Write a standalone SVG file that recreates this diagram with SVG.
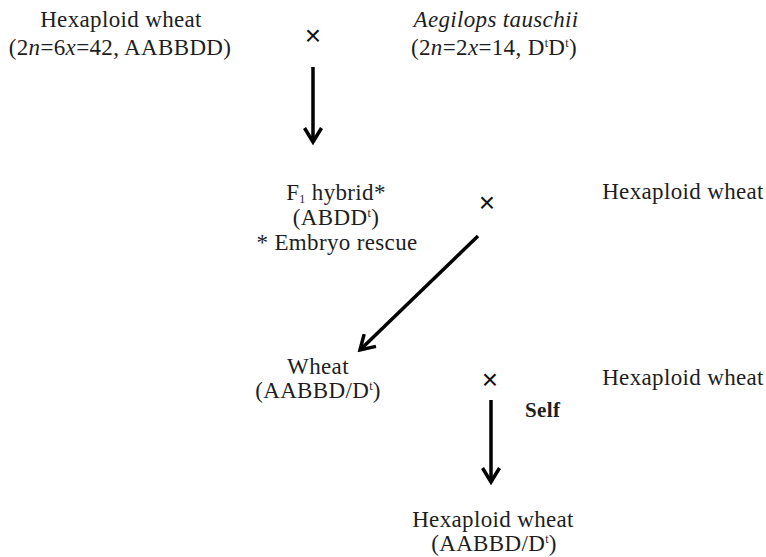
<svg xmlns="http://www.w3.org/2000/svg" width="766" height="557" viewBox="0 0 766 557">
<style>
text{font-family:"Liberation Serif","Times New Roman",serif;font-size:23px;letter-spacing:0.35px;fill:#1e1e1e;text-anchor:middle}
.it{font-style:italic}
.sup{font-size:12px}
.x{font-family:"Liberation Sans",Arial,sans-serif;font-size:28px;letter-spacing:0;fill:#111}
.b{font-weight:bold;text-anchor:start;font-size:21px}
.conn line{stroke:#000;stroke-width:3.5;fill:none}
</style>
<defs>
<marker id="ah" viewBox="0 0 20 20" refX="17" refY="10" markerWidth="20" markerHeight="20" markerUnits="userSpaceOnUse" orient="auto">
<path d="M3,1.5 L17,10 L3,18.5" fill="none" stroke="#000" stroke-width="3.5" stroke-linejoin="miter"/>
</marker>
</defs>
<g id="hexwheat1">
<text x="121" y="27">Hexaploid wheat</text>
<text x="120" y="55">(2<tspan class="it">n</tspan>=6<tspan class="it">x</tspan>=42, AABBDD)</text>
</g>
<g id="cross1"><text class="x" x="313" y="45">×</text></g>
<g id="aegilops">
<text class="it" x="496" y="27">Aegilops tauschii</text>
<text x="494" y="55">(2<tspan class="it">n</tspan>=2<tspan class="it">x</tspan>=14, D<tspan class="sup" dy="-8">t</tspan><tspan dy="8">D</tspan><tspan class="sup" dy="-8">t</tspan><tspan dy="8">)</tspan></text>
</g>
<g id="f1hybrid">
<text x="336" y="200">F<tspan class="sup" dy="3">1</tspan><tspan dy="-3"> hybrid*</tspan></text>
<text x="336" y="225">(ABDD<tspan class="sup" dy="-8">t</tspan><tspan dy="8">)</tspan></text>
<text x="337" y="250">* Embryo rescue</text>
</g>
<g id="cross2"><text class="x" x="487" y="212">×</text></g>
<g id="hexwheat2"><text x="683" y="199">Hexaploid wheat</text></g>
<g id="wheat">
<text x="318" y="374">Wheat</text>
<text x="318" y="398">(AABBD/D<tspan class="sup" dy="-8">t</tspan><tspan dy="8">)</tspan></text>
</g>
<g id="cross3"><text class="x" x="490" y="389">×</text></g>
<g id="hexwheat3"><text x="683" y="385">Hexaploid wheat</text></g>
<g id="self"><text class="b" x="525" y="417">Self</text></g>
<g id="hexwheat4">
<text x="493" y="527">Hexaploid wheat</text>
<text x="494" y="551">(AABBD/D<tspan class="sup" dy="-8">t</tspan><tspan dy="8">)</tspan></text>
</g>
<g class="conn" id="connectors">
<line x1="313" y1="67" x2="313" y2="142" marker-end="url(#ah)"/>
<line x1="478" y1="236" x2="360" y2="350" marker-end="url(#ah)"/>
<line x1="491" y1="400" x2="491" y2="482" marker-end="url(#ah)"/>
</g>
</svg>
